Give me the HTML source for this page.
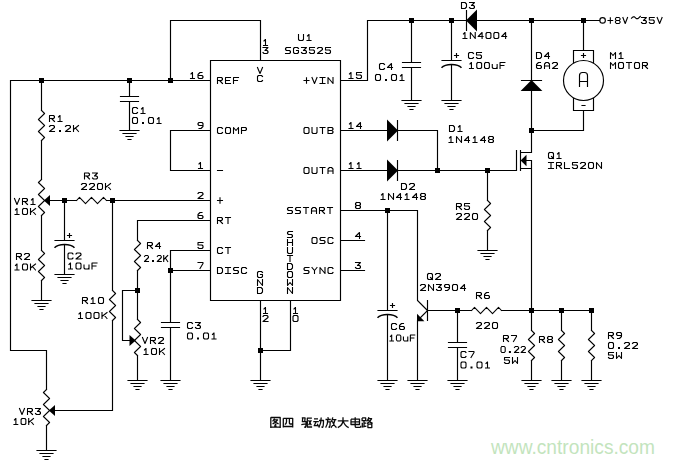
<!DOCTYPE html>
<html><head><meta charset="utf-8"><title>Drive amplifier circuit</title>
<style>
html,body{margin:0;padding:0;background:#fff;}
body{width:675px;height:463px;overflow:hidden;font-family:"Liberation Sans",sans-serif;}
svg{display:block;}
.w{fill:none;stroke:#000;stroke-width:1.15;stroke-linecap:square;stroke-linejoin:miter;}
.t{fill:none;stroke:#000;stroke-width:1.1;stroke-linecap:square;stroke-linejoin:round;}
.wm{font-family:"Liberation Sans",sans-serif;font-size:20.5px;fill:#c3e4bd;}
</style></head><body>
<svg width="675" height="463" viewBox="0 0 675 463">
<rect width="675" height="463" fill="#fff"/>
<!-- watermark -->
<text class="wm" x="491" y="454" textLength="164" lengthAdjust="spacingAndGlyphs">www.cntronics.com</text>
<!-- wires and symbols -->
<path class="w" d="M10.5,350.5 L10.5,80.5 L210.5,80.5
M170.5,80.5 L170.5,20.5 L260.5,20.5 L260.5,60.5
M210.5,60.5 H340.5 V300.5 H210.5 V60.5
M41.5,80.5 L41.5,110.5
M41.5,140.5 L41.5,179.5
M50.0,200.5 L76.5,200.5
M106.5,200.5 L210.5,200.5
M41.5,215.5 L41.5,250.5
M41.5,280.5 L41.5,300.5
M32.0,300.5 L51.0,300.5
M35.0,303.5 L48.0,303.5
M38.0,306.5 L45.0,306.5
M40.0,309.5 L43.0,309.5
M64.5,200.5 L64.5,240.5
M55.0,240.5 L74.0,240.5
M67.5,235.5 L71.5,235.5
M69.5,233.5 L69.5,237.5
M64.5,244.5 L64.5,274.5
M55.0,274.5 L74.0,274.5
M58.0,277.5 L71.0,277.5
M61.0,280.5 L68.0,280.5
M63.0,283.5 L66.0,283.5
M129.5,80.5 L129.5,96.5
M120.5,96.5 L138.5,96.5
M120.5,101.5 L138.5,101.5
M129.5,101.5 L129.5,130.5
M120.0,130.5 L139.0,130.5
M123.0,133.5 L136.0,133.5
M126.0,136.5 L133.0,136.5
M128.0,139.5 L131.0,139.5
M210.5,130.5 L170.5,130.5 L170.5,170.5 L210.5,170.5
M112.5,200.5 L112.5,290.5
M112.5,320.5 L112.5,410.5 L55.0,410.5
M10.5,350.5 L46.5,350.5 L46.5,389.5
M46.5,425.5 L46.5,450.5
M37.0,450.5 L56.0,450.5
M40.0,453.5 L53.0,453.5
M43.0,456.5 L50.0,456.5
M45.0,459.5 L48.0,459.5
M210.5,220.5 L137.5,220.5 L137.5,240.5
M137.5,270.5 L137.5,319.5
M137.5,290.5 L122.5,290.5 L122.5,340.5 L129.5,340.5
M137.5,355.5 L137.5,380.5
M128.0,380.5 L147.0,380.5
M131.0,383.5 L144.0,383.5
M134.0,386.5 L141.0,386.5
M136.0,389.5 L139.0,389.5
M210.5,250.5 L170.5,250.5 L170.5,322.5
M161.5,322.5 L179.5,322.5
M161.5,327.5 L179.5,327.5
M170.5,327.5 L170.5,380.5
M161.0,380.5 L180.0,380.5
M164.0,383.5 L177.0,383.5
M167.0,386.5 L174.0,386.5
M169.0,389.5 L172.0,389.5
M170.5,270.5 L210.5,270.5
M260.5,300.5 L260.5,380.5
M251.0,380.5 L270.0,380.5
M254.0,383.5 L267.0,383.5
M257.0,386.5 L264.0,386.5
M259.0,389.5 L262.0,389.5
M290.5,300.5 L290.5,350.5 L260.5,350.5
M340.5,80.5 L367.5,80.5 L367.5,20.5 L599.5,20.5
M411.5,20.5 L411.5,62.5
M402.5,62.5 L420.5,62.5
M402.5,67.5 L420.5,67.5
M411.5,67.5 L411.5,100.5
M402.0,100.5 L421.0,100.5
M405.0,103.5 L418.0,103.5
M408.0,106.5 L415.0,106.5
M410.0,109.5 L413.0,109.5
M451.5,20.5 L451.5,60.5
M442.0,60.5 L461.0,60.5
M454.5,55.5 L458.5,55.5
M456.5,53.5 L456.5,57.5
M451.5,64.5 L451.5,100.5
M442.0,100.5 L461.0,100.5
M445.0,103.5 L458.0,103.5
M448.0,106.5 L455.0,106.5
M450.0,109.5 L453.0,109.5
M466.5,10.5 L466.5,30.5
M531.5,20.5 L531.5,152.5
M521.5,80.5 L541.5,80.5
M583.5,20.5 L583.5,50.5
M531.5,130.5 L583.5,130.5 L583.5,110.5
M573.5,62.5 V50.5 H593.5 V62.5
M573.5,98.5 V110.5 H593.5 V98.5
M581.5,55.5 L585.5,55.5
M583.5,53.5 L583.5,57.5
M582.0,105.5 L585.0,105.5
M579.5,86.5 V75.5 Q579.5,72.5 582.5,72.5 H584.5 Q587.5,72.5 587.5,75.5 V86.5 M579.5,81.5 H587.5
M340.5,130.5 L437.5,130.5 L437.5,170.5
M397.5,120.5 L397.5,140.5
M340.5,170.5 L516.5,170.5
M397.5,160.5 L397.5,180.5
M487.5,170.5 L487.5,200.5
M487.5,230.5 L487.5,250.5
M478.0,250.5 L497.0,250.5
M481.0,253.5 L494.0,253.5
M484.0,256.5 L491.0,256.5
M486.0,259.5 L489.0,259.5
M516.5,150.5 L516.5,170.5
M520.5,150.5 L520.5,170.5
M520.5,152.5 L531.5,152.5
M520.5,168.5 L531.5,168.5
M520.5,160.5 L531.5,160.5 L531.5,310.5
M340.5,210.5 L417.5,210.5 L417.5,300.5 L427.5,310.5
M387.5,210.5 L387.5,310.5
M378.0,310.5 L397.0,310.5
M390.5,305.5 L394.5,305.5
M392.5,303.5 L392.5,307.5
M387.5,314.5 L387.5,380.5
M378.0,380.5 L397.0,380.5
M381.0,383.5 L394.0,383.5
M384.0,386.5 L391.0,386.5
M386.0,389.5 L389.0,389.5
M427.5,300.5 L427.5,320.5
M427.5,310.5 L417.5,320.5 L417.5,380.5
M408.0,380.5 L427.0,380.5
M411.0,383.5 L424.0,383.5
M414.0,386.5 L421.0,386.5
M416.0,389.5 L419.0,389.5
M427.5,310.5 L471.5,310.5
M501.5,310.5 L591.5,310.5
M457.5,310.5 L457.5,342.5
M448.5,342.5 L466.5,342.5
M448.5,347.5 L466.5,347.5
M457.5,347.5 L457.5,380.5
M448.0,380.5 L467.0,380.5
M451.0,383.5 L464.0,383.5
M454.0,386.5 L461.0,386.5
M456.0,389.5 L459.0,389.5
M531.5,310.5 L531.5,330.5
M531.5,360.5 L531.5,380.5
M522.0,380.5 L541.0,380.5
M525.0,383.5 L538.0,383.5
M528.0,386.5 L535.0,386.5
M530.0,389.5 L533.0,389.5
M561.5,310.5 L561.5,330.5
M561.5,360.5 L561.5,380.5
M552.0,380.5 L571.0,380.5
M555.0,383.5 L568.0,383.5
M558.0,386.5 L565.0,386.5
M560.0,389.5 L563.0,389.5
M591.5,310.5 L591.5,330.5
M591.5,360.5 L591.5,380.5
M582.0,380.5 L601.0,380.5
M585.0,383.5 L598.0,383.5
M588.0,386.5 L595.0,386.5
M590.0,389.5 L593.0,389.5
M340.5,240.5 L364.5,240.5
M340.5,270.5 L364.5,270.5"/>
<path class="w" style="stroke-linejoin:round;stroke-width:1.05" d="M41.5,110.5 L44.6,113.5 L38.4,119.5 L44.6,125.5 L38.4,131.5 L44.6,137.5 L41.5,140.5
M41.5,179.5 L38.4,182.5 L44.6,188.5 L38.4,194.5 L44.6,200.5 L38.4,206.5 L44.6,212.5 L41.5,215.5
M76.5,200.5 L79.5,197.4 L85.5,203.6 L91.5,197.4 L97.5,203.6 L103.5,197.4 L106.5,200.5
M41.5,250.5 L44.6,253.5 L38.4,259.5 L44.6,265.5 L38.4,271.5 L44.6,277.5 L41.5,280.5
M112.5,290.5 L115.6,293.5 L109.4,299.5 L115.6,305.5 L109.4,311.5 L115.6,317.5 L112.5,320.5
M46.5,389.5 L43.4,392.5 L49.6,398.5 L43.4,404.5 L49.6,410.5 L43.4,416.5 L49.6,422.5 L46.5,425.5
M137.5,240.5 L140.6,243.5 L134.4,249.5 L140.6,255.5 L134.4,261.5 L140.6,267.5 L137.5,270.5
M137.5,319.5 L140.6,322.5 L134.4,328.5 L140.6,334.5 L134.4,340.5 L140.6,346.5 L134.4,352.5 L137.5,355.5
M487.5,200.5 L490.6,203.5 L484.4,209.5 L490.6,215.5 L484.4,221.5 L490.6,227.5 L487.5,230.5
M471.5,310.5 L474.5,307.4 L480.5,313.6 L486.5,307.4 L492.5,313.6 L498.5,307.4 L501.5,310.5
M531.5,330.5 L534.6,333.5 L528.4,339.5 L534.6,345.5 L528.4,351.5 L534.6,357.5 L531.5,360.5
M561.5,330.5 L564.6,333.5 L558.4,339.5 L564.6,345.5 L558.4,351.5 L564.6,357.5 L561.5,360.5
M591.5,330.5 L594.6,333.5 L588.4,339.5 L594.6,345.5 L588.4,351.5 L594.6,357.5 L591.5,360.5"/>
<path class="w" style="stroke-width:1.4;stroke-linecap:butt" d="M54.5,247.8 C56.5,245.5 59.5,244.5 64.5,244.5 S72.5,245.5 74.5,247.8 M441.5,67.8 C443.5,65.5 446.5,64.5 451.5,64.5 S459.5,65.5 461.5,67.8 M377.5,317.8 C379.5,315.5 382.5,314.5 387.5,314.5 S395.5,315.5 397.5,317.8"/>
<circle class="w" cx="583.5" cy="80.5" r="20"/>
<circle class="w" cx="602.6" cy="20.4" r="2.75"/>
<g fill="#000">
<rect x="39.0" y="78.0" width="5" height="5"/>
<rect x="127.0" y="78.0" width="5" height="5"/>
<rect x="168.0" y="78.0" width="5" height="5"/>
<polygon points="43.8,200.5 50.0,195.0 50.0,206.0"/>
<rect x="62.0" y="198.0" width="5" height="5"/>
<rect x="110.0" y="198.0" width="5" height="5"/>
<polygon points="48.8,410.5 55.0,405.0 55.0,416.0"/>
<rect x="135.0" y="288.0" width="5" height="5"/>
<polygon points="135.7,340.5 129.5,335.0 129.5,346.0"/>
<rect x="168.0" y="268.0" width="5" height="5"/>
<rect x="258.0" y="348.0" width="5" height="5"/>
<rect x="409.0" y="18.0" width="5" height="5"/>
<rect x="449.0" y="18.0" width="5" height="5"/>
<rect x="529.0" y="18.0" width="5" height="5"/>
<rect x="581.0" y="18.0" width="5" height="5"/>
<polygon points="466.0,20.5 477.0,9.6 477.0,31.4"/>
<polygon points="531.5,80.0 520.6,91.0 542.4,91.0"/>
<rect x="529.0" y="128.0" width="5" height="5"/>
<polygon points="387.0,119.6 387.0,141.4 398.0,130.5"/>
<rect x="435.0" y="168.0" width="5" height="5"/>
<rect x="485.0" y="168.0" width="5" height="5"/>
<polygon points="387.0,159.6 387.0,181.4 398.0,170.5"/>
<polygon points="520.6,160.5 526.5,154.7 526.5,166.3"/>
<rect x="385.0" y="208.0" width="5" height="5"/>
<polygon points="417.0,313.8 417.0,321.2 424.4,321.2"/>
<rect x="455.0" y="308.0" width="5" height="5"/>
<rect x="529.0" y="308.0" width="5" height="5"/>
<rect x="559.0" y="308.0" width="5" height="5"/>
<rect x="589.0" y="308.0" width="5" height="5"/>
</g>
<!-- labels (stroke font) -->
<path class="t" d="M298.50,34.50 L298.50,39.50 L299.50,40.50 L302.50,40.50 L303.50,39.50 L303.50,34.50
M307.50,36.00 L309.00,34.50 L309.00,40.50 M307.00,40.50 L311.00,40.50
M290.50,47.50 L286.50,47.50 L285.50,48.50 L285.50,49.50 L286.50,50.50 L289.50,50.50 L290.50,51.50 L290.50,52.50 L289.50,53.50 L285.50,53.50
M298.50,48.50 L297.50,47.50 L294.50,47.50 L293.50,48.50 L293.50,52.50 L294.50,53.50 L297.50,53.50 L298.50,52.50 L298.50,50.50 L296.50,50.50
M301.50,47.50 L306.50,47.50 L303.50,50.50 L305.50,50.50 L306.50,51.50 L306.50,52.50 L305.50,53.50 L302.50,53.50 L301.50,52.50
M314.50,47.50 L309.50,47.50 L309.50,50.00 L313.50,50.00 L314.50,51.00 L314.50,52.50 L313.50,53.50 L310.50,53.50 L309.50,52.50
M317.50,48.50 L318.50,47.50 L321.50,47.50 L322.50,48.50 L322.50,49.50 L317.50,53.50 L322.50,53.50
M330.50,47.50 L325.50,47.50 L325.50,50.00 L329.50,50.00 L330.50,51.00 L330.50,52.50 L329.50,53.50 L326.50,53.50 L325.50,52.50
M217.50,83.50 L217.50,77.50 L221.50,77.50 L222.50,78.50 L222.50,79.50 L221.50,80.50 L217.50,80.50 M219.50,80.50 L222.50,83.50
M230.50,77.50 L225.50,77.50 L225.50,83.50 L230.50,83.50 M225.50,80.50 L229.50,80.50
M238.50,77.50 L233.50,77.50 L233.50,83.50 M233.50,80.50 L237.50,80.50
M222.50,128.50 L221.50,127.50 L218.50,127.50 L217.50,128.50 L217.50,132.50 L218.50,133.50 L221.50,133.50 L222.50,132.50
M226.50,127.50 L229.50,127.50 L230.50,128.50 L230.50,132.50 L229.50,133.50 L226.50,133.50 L225.50,132.50 L225.50,128.50 L226.50,127.50
M233.50,133.50 L233.50,127.50 L236.00,130.50 L238.50,127.50 L238.50,133.50
M241.50,133.50 L241.50,127.50 L245.50,127.50 L246.50,128.50 L246.50,129.50 L245.50,130.50 L241.50,130.50
M217.50,170.50 L222.50,170.50
M217.50,200.50 L222.50,200.50 M220.00,197.80 L220.00,203.20
M217.50,223.50 L217.50,217.50 L221.50,217.50 L222.50,218.50 L222.50,219.50 L221.50,220.50 L217.50,220.50 M219.50,220.50 L222.50,223.50
M225.50,217.50 L230.50,217.50 M228.00,217.50 L228.00,223.50
M222.50,248.50 L221.50,247.50 L218.50,247.50 L217.50,248.50 L217.50,252.50 L218.50,253.50 L221.50,253.50 L222.50,252.50
M225.50,247.50 L230.50,247.50 M228.00,247.50 L228.00,253.50
M217.50,267.50 L221.00,267.50 L222.50,269.00 L222.50,272.00 L221.00,273.50 L217.50,273.50 L217.50,267.50
M225.50,267.50 L230.50,267.50 M228.00,267.50 L228.00,273.50 M225.50,273.50 L230.50,273.50
M238.50,267.50 L234.50,267.50 L233.50,268.50 L233.50,269.50 L234.50,270.50 L237.50,270.50 L238.50,271.50 L238.50,272.50 L237.50,273.50 L233.50,273.50
M246.50,268.50 L245.50,267.50 L242.50,267.50 L241.50,268.50 L241.50,272.50 L242.50,273.50 L245.50,273.50 L246.50,272.50
M304.00,80.50 L309.00,80.50 M306.50,77.80 L306.50,83.20
M312.00,77.50 L314.50,83.50 L317.00,77.50
M320.00,77.50 L325.00,77.50 M322.50,77.50 L322.50,83.50 M320.00,83.50 L325.00,83.50
M328.00,83.50 L328.00,77.50 L333.00,83.50 L333.00,77.50
M305.00,127.50 L308.00,127.50 L309.00,128.50 L309.00,132.50 L308.00,133.50 L305.00,133.50 L304.00,132.50 L304.00,128.50 L305.00,127.50
M312.00,127.50 L312.00,132.50 L313.00,133.50 L316.00,133.50 L317.00,132.50 L317.00,127.50
M320.00,127.50 L325.00,127.50 M322.50,127.50 L322.50,133.50
M328.00,127.50 L332.00,127.50 L333.00,128.50 L333.00,129.50 L332.00,130.50 L328.00,130.50 M332.00,130.50 L333.00,131.50 L333.00,132.50 L332.00,133.50 L328.00,133.50 L328.00,127.50
M305.00,167.50 L308.00,167.50 L309.00,168.50 L309.00,172.50 L308.00,173.50 L305.00,173.50 L304.00,172.50 L304.00,168.50 L305.00,167.50
M312.00,167.50 L312.00,172.50 L313.00,173.50 L316.00,173.50 L317.00,172.50 L317.00,167.50
M320.00,167.50 L325.00,167.50 M322.50,167.50 L322.50,173.50
M328.00,173.50 L328.00,169.00 L329.50,167.50 L331.50,167.50 L333.00,169.00 L333.00,173.50 M328.00,171.00 L333.00,171.00
M292.50,207.50 L288.50,207.50 L287.50,208.50 L287.50,209.50 L288.50,210.50 L291.50,210.50 L292.50,211.50 L292.50,212.50 L291.50,213.50 L287.50,213.50
M300.50,207.50 L296.50,207.50 L295.50,208.50 L295.50,209.50 L296.50,210.50 L299.50,210.50 L300.50,211.50 L300.50,212.50 L299.50,213.50 L295.50,213.50
M303.50,207.50 L308.50,207.50 M306.00,207.50 L306.00,213.50
M311.50,213.50 L311.50,209.00 L313.00,207.50 L315.00,207.50 L316.50,209.00 L316.50,213.50 M311.50,211.00 L316.50,211.00
M319.50,213.50 L319.50,207.50 L323.50,207.50 L324.50,208.50 L324.50,209.50 L323.50,210.50 L319.50,210.50 M321.50,210.50 L324.50,213.50
M327.50,207.50 L332.50,207.50 M330.00,207.50 L330.00,213.50
M313.00,237.50 L316.00,237.50 L317.00,238.50 L317.00,242.50 L316.00,243.50 L313.00,243.50 L312.00,242.50 L312.00,238.50 L313.00,237.50
M325.00,237.50 L321.00,237.50 L320.00,238.50 L320.00,239.50 L321.00,240.50 L324.00,240.50 L325.00,241.50 L325.00,242.50 L324.00,243.50 L320.00,243.50
M333.00,238.50 L332.00,237.50 L329.00,237.50 L328.00,238.50 L328.00,242.50 L329.00,243.50 L332.00,243.50 L333.00,242.50
M309.00,267.50 L305.00,267.50 L304.00,268.50 L304.00,269.50 L305.00,270.50 L308.00,270.50 L309.00,271.50 L309.00,272.50 L308.00,273.50 L304.00,273.50
M312.00,267.50 L314.50,270.50 L317.00,267.50 M314.50,270.50 L314.50,273.50
M320.00,273.50 L320.00,267.50 L325.00,273.50 L325.00,267.50
M333.00,268.50 L332.00,267.50 L329.00,267.50 L328.00,268.50 L328.00,272.50 L329.00,273.50 L332.00,273.50 L333.00,272.50
M257.50,67.50 L260.00,73.50 L262.50,67.50
M262.50,76.50 L261.50,75.50 L258.50,75.50 L257.50,76.50 L257.50,80.50 L258.50,81.50 L261.50,81.50 L262.50,80.50
M262.50,272.50 L261.50,271.50 L258.50,271.50 L257.50,272.50 L257.50,276.50 L258.50,277.50 L261.50,277.50 L262.50,276.50 L262.50,274.50 L260.50,274.50
M257.50,285.50 L257.50,279.50 L262.50,285.50 L262.50,279.50
M257.50,287.50 L261.00,287.50 L262.50,289.00 L262.50,292.00 L261.00,293.50 L257.50,293.50 L257.50,287.50
M292.50,231.50 L288.50,231.50 L287.50,232.50 L287.50,233.50 L288.50,234.50 L291.50,234.50 L292.50,235.50 L292.50,236.50 L291.50,237.50 L287.50,237.50
M287.50,239.50 L287.50,245.50 M292.50,239.50 L292.50,245.50 M287.50,242.50 L292.50,242.50
M287.50,247.50 L287.50,252.50 L288.50,253.50 L291.50,253.50 L292.50,252.50 L292.50,247.50
M287.50,255.50 L292.50,255.50 M290.00,255.50 L290.00,261.50
M287.50,263.50 L291.00,263.50 L292.50,265.00 L292.50,268.00 L291.00,269.50 L287.50,269.50 L287.50,263.50
M288.50,271.50 L291.50,271.50 L292.50,272.50 L292.50,276.50 L291.50,277.50 L288.50,277.50 L287.50,276.50 L287.50,272.50 L288.50,271.50
M287.50,279.50 L287.50,285.50 L290.00,282.50 L292.50,285.50 L292.50,279.50
M287.50,293.50 L287.50,287.50 L292.50,293.50 L292.50,287.50
M264.00,41.00 L265.50,39.50 L265.50,45.50 M263.50,45.50 L267.50,45.50
M263.00,47.50 L268.00,47.50 L265.00,50.50 L267.00,50.50 L268.00,51.50 L268.00,52.50 L267.00,53.50 L264.00,53.50 L263.00,52.50
M264.00,309.00 L265.50,307.50 L265.50,313.50 M263.50,313.50 L267.50,313.50
M263.00,316.50 L264.00,315.50 L267.00,315.50 L268.00,316.50 L268.00,317.50 L263.00,321.50 L268.00,321.50
M294.00,309.00 L295.50,307.50 L295.50,313.50 M293.50,313.50 L297.50,313.50
M294.00,315.50 L297.00,315.50 L298.00,316.50 L298.00,320.50 L297.00,321.50 L294.00,321.50 L293.00,320.50 L293.00,316.50 L294.00,315.50
M191.00,74.00 L192.50,72.50 L192.50,78.50 M190.50,78.50 L194.50,78.50
M202.00,72.50 L200.00,72.50 L198.00,74.50 L198.00,77.50 L199.00,78.50 L202.00,78.50 L203.00,77.50 L203.00,76.50 L202.00,75.50 L198.00,75.50
M203.00,125.50 L199.00,125.50 L198.00,124.50 L198.00,123.50 L199.00,122.50 L202.00,122.50 L203.00,123.50 L203.00,126.50 L201.00,128.50 L199.00,128.50
M199.00,164.00 L200.50,162.50 L200.50,168.50 M198.50,168.50 L202.50,168.50
M198.00,193.50 L199.00,192.50 L202.00,192.50 L203.00,193.50 L203.00,194.50 L198.00,198.50 L203.00,198.50
M202.00,212.50 L200.00,212.50 L198.00,214.50 L198.00,217.50 L199.00,218.50 L202.00,218.50 L203.00,217.50 L203.00,216.50 L202.00,215.50 L198.00,215.50
M203.00,242.50 L198.00,242.50 L198.00,245.00 L202.00,245.00 L203.00,246.00 L203.00,247.50 L202.00,248.50 L199.00,248.50 L198.00,247.50
M198.00,262.50 L203.00,262.50 L203.00,263.50 L200.00,268.50
M349.50,74.00 L351.00,72.50 L351.00,78.50 M349.00,78.50 L353.00,78.50
M361.50,72.50 L356.50,72.50 L356.50,75.00 L360.50,75.00 L361.50,76.00 L361.50,77.50 L360.50,78.50 L357.50,78.50 L356.50,77.50
M349.50,124.00 L351.00,122.50 L351.00,128.50 M349.00,128.50 L353.00,128.50
M360.50,128.50 L360.50,122.50 L356.50,126.50 L361.50,126.50
M349.50,164.00 L351.00,162.50 L351.00,168.50 M349.00,168.50 L353.00,168.50
M357.50,164.00 L359.00,162.50 L359.00,168.50 M357.00,168.50 L361.00,168.50
M356.50,202.50 L359.50,202.50 L360.50,203.50 L360.50,204.50 L359.50,205.50 L356.50,205.50 L355.50,204.50 L355.50,203.50 L356.50,202.50 M356.50,205.50 L355.50,206.50 L355.50,207.50 L356.50,208.50 L359.50,208.50 L360.50,207.50 L360.50,206.50 L359.50,205.50
M359.50,238.50 L359.50,232.50 L355.50,236.50 L360.50,236.50
M355.50,262.50 L360.50,262.50 L357.50,265.50 L359.50,265.50 L360.50,266.50 L360.50,267.50 L359.50,268.50 L356.50,268.50 L355.50,267.50
M49.50,121.50 L49.50,115.50 L53.50,115.50 L54.50,116.50 L54.50,117.50 L53.50,118.50 L49.50,118.50 M51.50,118.50 L54.50,121.50
M58.50,117.00 L60.00,115.50 L60.00,121.50 M58.00,121.50 L62.00,121.50
M49.50,126.50 L50.50,125.50 L53.50,125.50 L54.50,126.50 L54.50,127.50 L49.50,131.50 L54.50,131.50
M65.50,126.50 L66.50,125.50 L69.50,125.50 L70.50,126.50 L70.50,127.50 L65.50,131.50 L70.50,131.50
M73.50,125.50 L73.50,131.50 M78.50,125.50 L73.50,129.50 M75.50,128.00 L78.50,131.50
M14.50,198.50 L17.00,204.50 L19.50,198.50
M22.50,204.50 L22.50,198.50 L26.50,198.50 L27.50,199.50 L27.50,200.50 L26.50,201.50 L22.50,201.50 M24.50,201.50 L27.50,204.50
M31.50,200.00 L33.00,198.50 L33.00,204.50 M31.00,204.50 L35.00,204.50
M15.50,210.00 L17.00,208.50 L17.00,214.50 M15.00,214.50 L19.00,214.50
M23.50,208.50 L26.50,208.50 L27.50,209.50 L27.50,213.50 L26.50,214.50 L23.50,214.50 L22.50,213.50 L22.50,209.50 L23.50,208.50
M30.50,208.50 L30.50,214.50 M35.50,208.50 L30.50,212.50 M32.50,211.00 L35.50,214.50
M84.50,179.00 L84.50,173.00 L88.50,173.00 L89.50,174.00 L89.50,175.00 L88.50,176.00 L84.50,176.00 M86.50,176.00 L89.50,179.00
M92.50,173.00 L97.50,173.00 L94.50,176.00 L96.50,176.00 L97.50,177.00 L97.50,178.00 L96.50,179.00 L93.50,179.00 L92.50,178.00
M81.50,184.50 L82.50,183.50 L85.50,183.50 L86.50,184.50 L86.50,185.50 L81.50,189.50 L86.50,189.50
M89.50,184.50 L90.50,183.50 L93.50,183.50 L94.50,184.50 L94.50,185.50 L89.50,189.50 L94.50,189.50
M98.50,183.50 L101.50,183.50 L102.50,184.50 L102.50,188.50 L101.50,189.50 L98.50,189.50 L97.50,188.50 L97.50,184.50 L98.50,183.50
M105.50,183.50 L105.50,189.50 M110.50,183.50 L105.50,187.50 M107.50,186.00 L110.50,189.50
M16.50,259.50 L16.50,253.50 L20.50,253.50 L21.50,254.50 L21.50,255.50 L20.50,256.50 L16.50,256.50 M18.50,256.50 L21.50,259.50
M24.50,254.50 L25.50,253.50 L28.50,253.50 L29.50,254.50 L29.50,255.50 L24.50,259.50 L29.50,259.50
M15.50,265.50 L17.00,264.00 L17.00,270.00 M15.00,270.00 L19.00,270.00
M23.50,264.00 L26.50,264.00 L27.50,265.00 L27.50,269.00 L26.50,270.00 L23.50,270.00 L22.50,269.00 L22.50,265.00 L23.50,264.00
M30.50,264.00 L30.50,270.00 M35.50,264.00 L30.50,268.00 M32.50,266.50 L35.50,270.00
M73.00,254.00 L72.00,253.00 L69.00,253.00 L68.00,254.00 L68.00,258.00 L69.00,259.00 L72.00,259.00 L73.00,258.00
M76.00,254.00 L77.00,253.00 L80.00,253.00 L81.00,254.00 L81.00,255.00 L76.00,259.00 L81.00,259.00
M69.00,264.50 L70.50,263.00 L70.50,269.00 M68.50,269.00 L72.50,269.00
M77.00,263.00 L80.00,263.00 L81.00,264.00 L81.00,268.00 L80.00,269.00 L77.00,269.00 L76.00,268.00 L76.00,264.00 L77.00,263.00
M84.00,265.00 L84.00,268.00 L85.00,269.00 L88.00,269.00 L89.00,268.00 M89.00,265.00 L89.00,269.00
M97.00,263.00 L92.00,263.00 L92.00,269.00 M92.00,266.00 L96.00,266.00
M137.50,108.50 L136.50,107.50 L133.50,107.50 L132.50,108.50 L132.50,112.50 L133.50,113.50 L136.50,113.50 L137.50,112.50
M141.50,109.00 L143.00,107.50 L143.00,113.50 M141.00,113.50 L145.00,113.50
M133.50,117.50 L136.50,117.50 L137.50,118.50 L137.50,122.50 L136.50,123.50 L133.50,123.50 L132.50,122.50 L132.50,118.50 L133.50,117.50
M149.50,117.50 L152.50,117.50 L153.50,118.50 L153.50,122.50 L152.50,123.50 L149.50,123.50 L148.50,122.50 L148.50,118.50 L149.50,117.50
M157.50,119.00 L159.00,117.50 L159.00,123.50 M157.00,123.50 L161.00,123.50
M147.50,248.50 L147.50,242.50 L151.50,242.50 L152.50,243.50 L152.50,244.50 L151.50,245.50 L147.50,245.50 M149.50,245.50 L152.50,248.50
M159.50,248.50 L159.50,242.50 L155.50,246.50 L160.50,246.50
M144.50,256.50 L145.30,255.50 L147.70,255.50 L148.50,256.50 L148.50,257.50 L144.50,261.50 L148.50,261.50
M157.30,256.50 L158.10,255.50 L160.50,255.50 L161.30,256.50 L161.30,257.50 L157.30,261.50 L161.30,261.50
M163.70,255.50 L163.70,261.50 M167.70,255.50 L163.70,259.50 M165.30,258.00 L167.70,261.50
M82.50,303.50 L82.50,297.50 L86.50,297.50 L87.50,298.50 L87.50,299.50 L86.50,300.50 L82.50,300.50 M84.50,300.50 L87.50,303.50
M91.50,299.00 L93.00,297.50 L93.00,303.50 M91.00,303.50 L95.00,303.50
M99.50,297.50 L102.50,297.50 L103.50,298.50 L103.50,302.50 L102.50,303.50 L99.50,303.50 L98.50,302.50 L98.50,298.50 L99.50,297.50
M79.00,314.00 L80.50,312.50 L80.50,318.50 M78.50,318.50 L82.50,318.50
M87.00,312.50 L90.00,312.50 L91.00,313.50 L91.00,317.50 L90.00,318.50 L87.00,318.50 L86.00,317.50 L86.00,313.50 L87.00,312.50
M95.00,312.50 L98.00,312.50 L99.00,313.50 L99.00,317.50 L98.00,318.50 L95.00,318.50 L94.00,317.50 L94.00,313.50 L95.00,312.50
M102.00,312.50 L102.00,318.50 M107.00,312.50 L102.00,316.50 M104.00,315.00 L107.00,318.50
M142.50,337.50 L145.00,343.50 L147.50,337.50
M150.50,343.50 L150.50,337.50 L154.50,337.50 L155.50,338.50 L155.50,339.50 L154.50,340.50 L150.50,340.50 M152.50,340.50 L155.50,343.50
M158.50,338.50 L159.50,337.50 L162.50,337.50 L163.50,338.50 L163.50,339.50 L158.50,343.50 L163.50,343.50
M144.50,350.00 L146.00,348.50 L146.00,354.50 M144.00,354.50 L148.00,354.50
M152.50,348.50 L155.50,348.50 L156.50,349.50 L156.50,353.50 L155.50,354.50 L152.50,354.50 L151.50,353.50 L151.50,349.50 L152.50,348.50
M159.50,348.50 L159.50,354.50 M164.50,348.50 L159.50,352.50 M161.50,351.00 L164.50,354.50
M192.50,323.50 L191.50,322.50 L188.50,322.50 L187.50,323.50 L187.50,327.50 L188.50,328.50 L191.50,328.50 L192.50,327.50
M195.50,322.50 L200.50,322.50 L197.50,325.50 L199.50,325.50 L200.50,326.50 L200.50,327.50 L199.50,328.50 L196.50,328.50 L195.50,327.50
M188.50,333.00 L191.50,333.00 L192.50,334.00 L192.50,338.00 L191.50,339.00 L188.50,339.00 L187.50,338.00 L187.50,334.00 L188.50,333.00
M204.50,333.00 L207.50,333.00 L208.50,334.00 L208.50,338.00 L207.50,339.00 L204.50,339.00 L203.50,338.00 L203.50,334.00 L204.50,333.00
M212.50,334.50 L214.00,333.00 L214.00,339.00 M212.00,339.00 L216.00,339.00
M19.50,408.50 L22.00,414.50 L24.50,408.50
M27.50,414.50 L27.50,408.50 L31.50,408.50 L32.50,409.50 L32.50,410.50 L31.50,411.50 L27.50,411.50 M29.50,411.50 L32.50,414.50
M35.50,408.50 L40.50,408.50 L37.50,411.50 L39.50,411.50 L40.50,412.50 L40.50,413.50 L39.50,414.50 L36.50,414.50 L35.50,413.50
M14.45,420.00 L15.88,418.50 L15.88,424.50 M13.97,424.50 L17.77,424.50
M22.05,418.50 L24.90,418.50 L25.85,419.50 L25.85,423.50 L24.90,424.50 L22.05,424.50 L21.10,423.50 L21.10,419.50 L22.05,418.50
M28.70,418.50 L28.70,424.50 M33.45,418.50 L28.70,422.50 M30.60,421.00 L33.45,424.50
M384.50,64.50 L383.50,63.50 L380.50,63.50 L379.50,64.50 L379.50,68.50 L380.50,69.50 L383.50,69.50 L384.50,68.50
M391.50,69.50 L391.50,63.50 L387.50,67.50 L392.50,67.50
M376.50,74.50 L379.50,74.50 L380.50,75.50 L380.50,79.50 L379.50,80.50 L376.50,80.50 L375.50,79.50 L375.50,75.50 L376.50,74.50
M392.50,74.50 L395.50,74.50 L396.50,75.50 L396.50,79.50 L395.50,80.50 L392.50,80.50 L391.50,79.50 L391.50,75.50 L392.50,74.50
M400.50,76.00 L402.00,74.50 L402.00,80.50 M400.00,80.50 L404.00,80.50
M473.50,53.50 L472.50,52.50 L469.50,52.50 L468.50,53.50 L468.50,57.50 L469.50,58.50 L472.50,58.50 L473.50,57.50
M481.50,52.50 L476.50,52.50 L476.50,55.00 L480.50,55.00 L481.50,56.00 L481.50,57.50 L480.50,58.50 L477.50,58.50 L476.50,57.50
M469.97,64.00 L471.43,62.50 L471.43,68.50 M469.49,68.50 L473.37,68.50
M477.73,62.50 L480.64,62.50 L481.61,63.50 L481.61,67.50 L480.64,68.50 L477.73,68.50 L476.76,67.50 L476.76,63.50 L477.73,62.50
M485.49,62.50 L488.40,62.50 L489.37,63.50 L489.37,67.50 L488.40,68.50 L485.49,68.50 L484.52,67.50 L484.52,63.50 L485.49,62.50
M492.28,64.50 L492.28,67.50 L493.25,68.50 L496.16,68.50 L497.13,67.50 M497.13,64.50 L497.13,68.50
M504.89,62.50 L500.04,62.50 L500.04,68.50 M500.04,65.50 L503.92,65.50
M461.50,2.50 L465.00,2.50 L466.50,4.00 L466.50,7.00 L465.00,8.50 L461.50,8.50 L461.50,2.50
M469.50,2.50 L474.50,2.50 L471.50,5.50 L473.50,5.50 L474.50,6.50 L474.50,7.50 L473.50,8.50 L470.50,8.50 L469.50,7.50
M463.48,34.00 L464.95,32.50 L464.95,38.50 M462.99,38.50 L466.91,38.50
M470.34,38.50 L470.34,32.50 L475.24,38.50 L475.24,32.50
M482.10,38.50 L482.10,32.50 L478.18,36.50 L483.08,36.50
M487.00,32.50 L489.94,32.50 L490.92,33.50 L490.92,37.50 L489.94,38.50 L487.00,38.50 L486.02,37.50 L486.02,33.50 L487.00,32.50
M494.84,32.50 L497.78,32.50 L498.76,33.50 L498.76,37.50 L497.78,38.50 L494.84,38.50 L493.86,37.50 L493.86,33.50 L494.84,32.50
M505.62,38.50 L505.62,32.50 L501.70,36.50 L506.60,36.50
M536.50,52.50 L540.00,52.50 L541.50,54.00 L541.50,57.00 L540.00,58.50 L536.50,58.50 L536.50,52.50
M548.50,58.50 L548.50,52.50 L544.50,56.50 L549.50,56.50
M540.50,62.50 L538.50,62.50 L536.50,64.50 L536.50,67.50 L537.50,68.50 L540.50,68.50 L541.50,67.50 L541.50,66.50 L540.50,65.50 L536.50,65.50
M544.50,68.50 L544.50,64.00 L546.00,62.50 L548.00,62.50 L549.50,64.00 L549.50,68.50 M544.50,66.00 L549.50,66.00
M552.50,63.50 L553.50,62.50 L556.50,62.50 L557.50,63.50 L557.50,64.50 L552.50,68.50 L557.50,68.50
M610.50,58.50 L610.50,52.50 L613.00,55.50 L615.50,52.50 L615.50,58.50
M619.50,54.00 L621.00,52.50 L621.00,58.50 M619.00,58.50 L623.00,58.50
M610.50,68.50 L610.50,62.50 L613.00,65.50 L615.50,62.50 L615.50,68.50
M619.50,62.50 L622.50,62.50 L623.50,63.50 L623.50,67.50 L622.50,68.50 L619.50,68.50 L618.50,67.50 L618.50,63.50 L619.50,62.50
M626.50,62.50 L631.50,62.50 M629.00,62.50 L629.00,68.50
M635.50,62.50 L638.50,62.50 L639.50,63.50 L639.50,67.50 L638.50,68.50 L635.50,68.50 L634.50,67.50 L634.50,63.50 L635.50,62.50
M642.50,68.50 L642.50,62.50 L646.50,62.50 L647.50,63.50 L647.50,64.50 L646.50,65.50 L642.50,65.50 M644.50,65.50 L647.50,68.50
M449.50,125.50 L453.00,125.50 L454.50,127.00 L454.50,130.00 L453.00,131.50 L449.50,131.50 L449.50,125.50
M458.50,127.00 L460.00,125.50 L460.00,131.50 M458.00,131.50 L462.00,131.50
M449.50,138.00 L451.00,136.50 L451.00,142.50 M449.00,142.50 L453.00,142.50
M456.50,142.50 L456.50,136.50 L461.50,142.50 L461.50,136.50
M468.50,142.50 L468.50,136.50 L464.50,140.50 L469.50,140.50
M473.50,138.00 L475.00,136.50 L475.00,142.50 M473.00,142.50 L477.00,142.50
M484.50,142.50 L484.50,136.50 L480.50,140.50 L485.50,140.50
M489.50,136.50 L492.50,136.50 L493.50,137.50 L493.50,138.50 L492.50,139.50 L489.50,139.50 L488.50,138.50 L488.50,137.50 L489.50,136.50 M489.50,139.50 L488.50,140.50 L488.50,141.50 L489.50,142.50 L492.50,142.50 L493.50,141.50 L493.50,140.50 L492.50,139.50
M401.50,183.50 L405.00,183.50 L406.50,185.00 L406.50,188.00 L405.00,189.50 L401.50,189.50 L401.50,183.50
M409.50,184.50 L410.50,183.50 L413.50,183.50 L414.50,184.50 L414.50,185.50 L409.50,189.50 L414.50,189.50
M381.50,195.00 L383.00,193.50 L383.00,199.50 M381.00,199.50 L385.00,199.50
M388.50,199.50 L388.50,193.50 L393.50,199.50 L393.50,193.50
M400.50,199.50 L400.50,193.50 L396.50,197.50 L401.50,197.50
M405.50,195.00 L407.00,193.50 L407.00,199.50 M405.00,199.50 L409.00,199.50
M416.50,199.50 L416.50,193.50 L412.50,197.50 L417.50,197.50
M421.50,193.50 L424.50,193.50 L425.50,194.50 L425.50,195.50 L424.50,196.50 L421.50,196.50 L420.50,195.50 L420.50,194.50 L421.50,193.50 M421.50,196.50 L420.50,197.50 L420.50,198.50 L421.50,199.50 L424.50,199.50 L425.50,198.50 L425.50,197.50 L424.50,196.50
M549.50,152.50 L552.50,152.50 L553.50,153.50 L553.50,157.50 L552.50,158.50 L549.50,158.50 L548.50,157.50 L548.50,153.50 L549.50,152.50 M551.50,156.50 L553.50,158.50
M557.50,154.00 L559.00,152.50 L559.00,158.50 M557.00,158.50 L561.00,158.50
M548.50,162.50 L553.50,162.50 M551.00,162.50 L551.00,168.50 M548.50,168.50 L553.50,168.50
M556.50,168.50 L556.50,162.50 L560.50,162.50 L561.50,163.50 L561.50,164.50 L560.50,165.50 L556.50,165.50 M558.50,165.50 L561.50,168.50
M564.50,162.50 L564.50,168.50 L569.50,168.50
M577.50,162.50 L572.50,162.50 L572.50,165.00 L576.50,165.00 L577.50,166.00 L577.50,167.50 L576.50,168.50 L573.50,168.50 L572.50,167.50
M580.50,163.50 L581.50,162.50 L584.50,162.50 L585.50,163.50 L585.50,164.50 L580.50,168.50 L585.50,168.50
M589.50,162.50 L592.50,162.50 L593.50,163.50 L593.50,167.50 L592.50,168.50 L589.50,168.50 L588.50,167.50 L588.50,163.50 L589.50,162.50
M596.50,168.50 L596.50,162.50 L601.50,168.50 L601.50,162.50
M456.50,209.50 L456.50,203.50 L460.50,203.50 L461.50,204.50 L461.50,205.50 L460.50,206.50 L456.50,206.50 M458.50,206.50 L461.50,209.50
M469.50,203.50 L464.50,203.50 L464.50,206.00 L468.50,206.00 L469.50,207.00 L469.50,208.50 L468.50,209.50 L465.50,209.50 L464.50,208.50
M456.50,214.50 L457.50,213.50 L460.50,213.50 L461.50,214.50 L461.50,215.50 L456.50,219.50 L461.50,219.50
M464.50,214.50 L465.50,213.50 L468.50,213.50 L469.50,214.50 L469.50,215.50 L464.50,219.50 L469.50,219.50
M473.50,213.50 L476.50,213.50 L477.50,214.50 L477.50,218.50 L476.50,219.50 L473.50,219.50 L472.50,218.50 L472.50,214.50 L473.50,213.50
M428.50,273.50 L431.50,273.50 L432.50,274.50 L432.50,278.50 L431.50,279.50 L428.50,279.50 L427.50,278.50 L427.50,274.50 L428.50,273.50 M430.50,277.50 L432.50,279.50
M435.50,274.50 L436.50,273.50 L439.50,273.50 L440.50,274.50 L440.50,275.50 L435.50,279.50 L440.50,279.50
M420.50,285.50 L421.50,284.50 L424.50,284.50 L425.50,285.50 L425.50,286.50 L420.50,290.50 L425.50,290.50
M428.50,290.50 L428.50,284.50 L433.50,290.50 L433.50,284.50
M436.50,284.50 L441.50,284.50 L438.50,287.50 L440.50,287.50 L441.50,288.50 L441.50,289.50 L440.50,290.50 L437.50,290.50 L436.50,289.50
M449.50,287.50 L445.50,287.50 L444.50,286.50 L444.50,285.50 L445.50,284.50 L448.50,284.50 L449.50,285.50 L449.50,288.50 L447.50,290.50 L445.50,290.50
M453.50,284.50 L456.50,284.50 L457.50,285.50 L457.50,289.50 L456.50,290.50 L453.50,290.50 L452.50,289.50 L452.50,285.50 L453.50,284.50
M464.50,290.50 L464.50,284.50 L460.50,288.50 L465.50,288.50
M476.50,298.50 L476.50,292.50 L480.50,292.50 L481.50,293.50 L481.50,294.50 L480.50,295.50 L476.50,295.50 M478.50,295.50 L481.50,298.50
M488.50,292.50 L486.50,292.50 L484.50,294.50 L484.50,297.50 L485.50,298.50 L488.50,298.50 L489.50,297.50 L489.50,296.50 L488.50,295.50 L484.50,295.50
M476.50,323.50 L477.50,322.50 L480.50,322.50 L481.50,323.50 L481.50,324.50 L476.50,328.50 L481.50,328.50
M484.50,323.50 L485.50,322.50 L488.50,322.50 L489.50,323.50 L489.50,324.50 L484.50,328.50 L489.50,328.50
M493.50,322.50 L496.50,322.50 L497.50,323.50 L497.50,327.50 L496.50,328.50 L493.50,328.50 L492.50,327.50 L492.50,323.50 L493.50,322.50
M396.50,324.50 L395.50,323.50 L392.50,323.50 L391.50,324.50 L391.50,328.50 L392.50,329.50 L395.50,329.50 L396.50,328.50
M403.50,323.50 L401.50,323.50 L399.50,325.50 L399.50,328.50 L400.50,329.50 L403.50,329.50 L404.50,328.50 L404.50,327.50 L403.50,326.50 L399.50,326.50
M390.37,336.50 L391.68,335.00 L391.68,341.00 M389.94,341.00 L393.42,341.00
M397.33,335.00 L399.94,335.00 L400.81,336.00 L400.81,340.00 L399.94,341.00 L397.33,341.00 L396.46,340.00 L396.46,336.00 L397.33,335.00
M403.42,337.00 L403.42,340.00 L404.29,341.00 L406.90,341.00 L407.77,340.00 M407.77,337.00 L407.77,341.00
M414.73,335.00 L410.38,335.00 L410.38,341.00 M410.38,338.00 L413.86,338.00
M466.00,352.50 L465.00,351.50 L462.00,351.50 L461.00,352.50 L461.00,356.50 L462.00,357.50 L465.00,357.50 L466.00,356.50
M469.00,351.50 L474.00,351.50 L474.00,352.50 L471.00,357.50
M462.00,362.00 L465.00,362.00 L466.00,363.00 L466.00,367.00 L465.00,368.00 L462.00,368.00 L461.00,367.00 L461.00,363.00 L462.00,362.00
M478.00,362.00 L481.00,362.00 L482.00,363.00 L482.00,367.00 L481.00,368.00 L478.00,368.00 L477.00,367.00 L477.00,363.00 L478.00,362.00
M486.00,363.50 L487.50,362.00 L487.50,368.00 M485.50,368.00 L489.50,368.00
M503.50,341.50 L503.50,335.50 L507.50,335.50 L508.50,336.50 L508.50,337.50 L507.50,338.50 L503.50,338.50 M505.50,338.50 L508.50,341.50
M511.50,335.50 L516.50,335.50 L516.50,336.50 L513.50,341.50
M501.84,346.50 L504.36,346.50 L505.20,347.50 L505.20,351.50 L504.36,352.50 L501.84,352.50 L501.00,351.50 L501.00,347.50 L501.84,346.50
M514.44,347.50 L515.28,346.50 L517.80,346.50 L518.64,347.50 L518.64,348.50 L514.44,352.50 L518.64,352.50
M521.16,347.50 L522.00,346.50 L524.52,346.50 L525.36,347.50 L525.36,348.50 L521.16,352.50 L525.36,352.50
M509.50,357.50 L504.50,357.50 L504.50,360.00 L508.50,360.00 L509.50,361.00 L509.50,362.50 L508.50,363.50 L505.50,363.50 L504.50,362.50
M512.50,357.50 L512.50,363.50 L515.00,360.50 L517.50,363.50 L517.50,357.50
M539.50,342.50 L539.50,336.50 L543.50,336.50 L544.50,337.50 L544.50,338.50 L543.50,339.50 L539.50,339.50 M541.50,339.50 L544.50,342.50
M548.50,336.50 L551.50,336.50 L552.50,337.50 L552.50,338.50 L551.50,339.50 L548.50,339.50 L547.50,338.50 L547.50,337.50 L548.50,336.50 M548.50,339.50 L547.50,340.50 L547.50,341.50 L548.50,342.50 L551.50,342.50 L552.50,341.50 L552.50,340.50 L551.50,339.50
M608.50,338.50 L608.50,332.50 L612.50,332.50 L613.50,333.50 L613.50,334.50 L612.50,335.50 L608.50,335.50 M610.50,335.50 L613.50,338.50
M621.50,335.50 L617.50,335.50 L616.50,334.50 L616.50,333.50 L617.50,332.50 L620.50,332.50 L621.50,333.50 L621.50,336.50 L619.50,338.50 L617.50,338.50
M609.50,342.50 L612.50,342.50 L613.50,343.50 L613.50,347.50 L612.50,348.50 L609.50,348.50 L608.50,347.50 L608.50,343.50 L609.50,342.50
M624.50,343.50 L625.50,342.50 L628.50,342.50 L629.50,343.50 L629.50,344.50 L624.50,348.50 L629.50,348.50
M632.50,343.50 L633.50,342.50 L636.50,342.50 L637.50,343.50 L637.50,344.50 L632.50,348.50 L637.50,348.50
M613.50,352.50 L608.50,352.50 L608.50,355.00 L612.50,355.00 L613.50,356.00 L613.50,357.50 L612.50,358.50 L609.50,358.50 L608.50,357.50
M616.50,352.50 L616.50,358.50 L619.00,355.50 L621.50,358.50 L621.50,352.50
M608.00,20.50 L612.65,20.50 M610.33,17.80 L610.33,23.20
M616.37,17.50 L619.16,17.50 L620.09,18.50 L620.09,19.50 L619.16,20.50 L616.37,20.50 L615.44,19.50 L615.44,18.50 L616.37,17.50 M616.37,20.50 L615.44,21.50 L615.44,22.50 L616.37,23.50 L619.16,23.50 L620.09,22.50 L620.09,21.50 L619.16,20.50
M622.88,17.50 L625.21,23.50 L627.53,17.50
M641.50,17.50 L646.40,17.50 L643.46,20.50 L645.42,20.50 L646.40,21.50 L646.40,22.50 L645.42,23.50 L642.48,23.50 L641.50,22.50
M654.24,17.50 L649.34,17.50 L649.34,20.00 L653.26,20.00 L654.24,21.00 L654.24,22.50 L653.26,23.50 L650.32,23.50 L649.34,22.50
M657.18,17.50 L659.63,23.50 L662.08,17.50
M631.5,18.2 L633,16.9 L634.5,16.9 L636.3,18.6 L638,18.6 L640.3,16.4"/>
<g fill="#000"><rect x="59.0" y="130.0" width="2.0" height="2.0"/><rect x="142.0" y="122.0" width="2.0" height="2.0"/><rect x="152.0" y="260.0" width="2.0" height="2.0"/><rect x="197.0" y="337.5" width="2.0" height="2.0"/><rect x="385.0" y="79.0" width="2.0" height="2.0"/><rect x="470.5" y="366.5" width="2.0" height="2.0"/><rect x="508.9" y="351.0" width="2.0" height="2.0"/><rect x="618.0" y="347.0" width="2.0" height="2.0"/></g>
<!-- caption: 图四  驱动放大电路 (hand drawn strokes, no CJK font available) -->
<g fill="none" stroke="#0a0a0a" stroke-width="1.3" stroke-linecap="butt" stroke-linejoin="round">
<path transform="translate(270.0,416.7)" d="M0.8,0.6 V11.2 M0.8,0.8 H10.2 V11.2 M0.8,10.4 H10.2 M4.6,1.9 L2.6,4.6 M4.1,3.2 H7.6 L5.6,5.4 L2.6,7.2 M4.2,4.3 L6,5.9 L8.6,7.2 M4.8,7.4 L6.3,8.2 M4.2,8.9 L6.6,9.7"/>
<path transform="translate(282.5,416.7)" d="M0.8,1.6 V10.9 M0.8,1.6 H10.2 V10.9 M0.8,9.8 H10.2 M4,1.6 V5 Q4,7 2.3,7.8 M6.9,1.6 V6.6 Q6.9,7.3 7.8,7.3 H10.2"/>
<path transform="translate(301.0,416.7)" d="M0.8,1.2 H4.1 L3.7,5 M1.7,1.2 L1.4,5 H5.1 Q5.1,10 4.3,10.7 L3.2,10 M0.3,7.9 L4.6,7.2 M10.9,1.5 H6.3 V10.3 H11.1 M7.6,3.4 L10.3,8.6 M10.3,3.4 L7.6,8.6"/>
<path transform="translate(313.0,416.7)" d="M1,2.2 H5 M0.3,5 H5.8 M3.1,5 L1.2,9 L5,8.6 M4.2,7 L5.5,9.7 M6,3.8 H10.5 Q10.5,9.5 9.6,10.7 L8.4,10 M8.2,0.7 Q8.2,7 5.8,10.9"/>
<path transform="translate(325.2,416.7)" d="M2.5,0.5 L3.3,1.9 M0.3,2.8 H5.6 M2.6,2.8 Q2.6,8 0.4,10.9 M2.6,5.2 H5 Q5,9.5 4.2,10.6 L3.3,10 M7.6,0.6 Q7,3.5 5.8,5.3 M7,3 H11.2 M9.9,3 Q9,8 5.7,11 M7.2,4.6 Q8.5,9 11.3,10.9"/>
<path transform="translate(337.4,416.7)" d="M0.4,4.2 H11.1 M5.6,0.5 V4.2 Q5.2,8.5 0.4,11 M5.8,4.2 Q7,9 11.3,10.9"/>
<path transform="translate(349.8,416.7)" d="M1.2,2.5 H9.7 V7.8 H1.2 V2.5 M1.2,5.2 H9.7 M5.4,0.5 V9.5 Q5.4,10.7 6.6,10.7 H10.2 Q11,10.7 11,9"/>
<path transform="translate(361.3,416.7)" d="M0.8,1.2 H4.4 V4 H0.8 V1.2 M2.7,4 V9.8 M2.7,6.4 H4.9 M1,6 V9.9 M0.2,10.4 L5.1,9.4 M7.6,0.5 Q7,3 5.4,4.7 M7.2,2 H10.3 Q9,5 5.6,6.9 M7,3.1 Q8.5,5.6 11.4,6.6 M6.6,7.5 H10.5 V10.9 H6.6 V7.5"/>
</g>
</svg>
</body></html>
